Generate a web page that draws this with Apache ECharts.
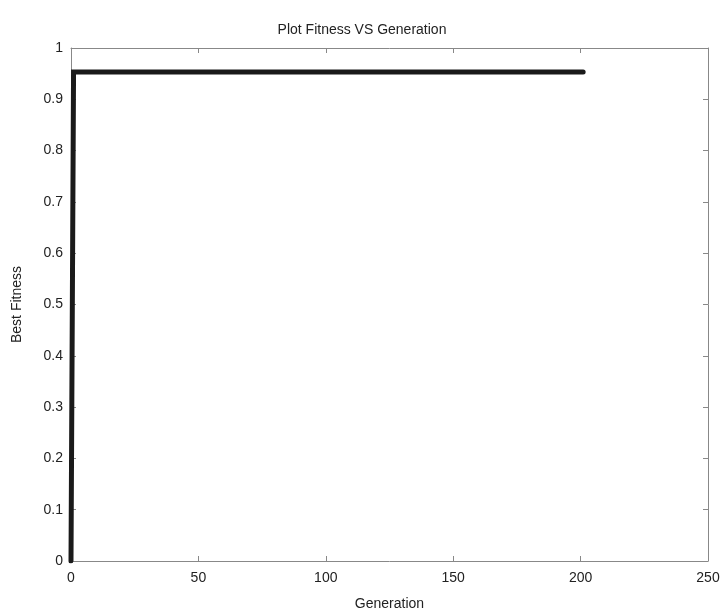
<!DOCTYPE html>
<html>
<head>
<meta charset="UTF-8">
<script src="https://cdn.jsdelivr.net/npm/echarts@6/dist/echarts.min.js"></script>
</head>
<body style="margin:0;background:#fff;">
<div id="chart" style="width:724px;height:609px;"></div>
<script>
// data
var generations = [0, 1, 201];
var bestFitness = [0, 0.953, 0.953];

var pts = generations.map(function (g, i) { return [g, bestFitness[i]]; });

var axisLine = { show: true, onZero: false, lineStyle: { color: '#888', width: 1 } };
var tickIn = { show: true, inside: true, length: 5, lineStyle: { color: '#888' } };
var lbl = { color: '#222', fontFamily: 'Arial, Liberation Sans', fontSize: 14 };

var chart = echarts.init(document.getElementById('chart'));
chart.setOption({
    animation: false,
    title: {
        text: 'Plot Fitness VS Generation',
        left: 'center', top: 18,
        textStyle: { color: '#222', fontWeight: 'normal', fontSize: 14, fontFamily: 'Arial, Liberation Sans' }
    },
    grid: { left: 71, right: 16, top: 48, bottom: 48, outerBoundsMode: 'none' },
    xAxis: [{
        type: 'value', min: 0, max: 250, interval: 50,
        name: 'Generation', nameLocation: 'middle', nameGap: 36,
        nameTextStyle: lbl,
        axisLine: axisLine, axisTick: tickIn,
        axisLabel: Object.assign({ margin: 10 }, lbl),
        splitLine: { show: false }
    }, {
        type: 'value', min: 0, max: 250, interval: 50, position: 'top',
        axisLine: axisLine, axisTick: tickIn, axisLabel: { show: false }, splitLine: { show: false }
    }],
    yAxis: [{
        type: 'value', min: 0, max: 1, interval: 0.1,
        name: 'Best Fitness', nameLocation: 'middle', nameGap: 47,
        nameTextStyle: lbl,
        axisLine: axisLine, axisTick: tickIn,
        axisLabel: Object.assign({ margin: 8, formatter: function (v) { return String(+v.toFixed(1)); } }, lbl),
        splitLine: { show: false }
    }, {
        type: 'value', min: 0, max: 1, interval: 0.1, position: 'right',
        axisLine: axisLine, axisTick: tickIn, axisLabel: { show: false }, splitLine: { show: false }
    }],
    series: [{
        type: 'line',
        data: pts,
        showSymbol: false,
        lineStyle: { color: '#1a1a1a', width: 5, cap: 'round', join: 'miter' }
    }]
});
</script>
</body>
</html>
